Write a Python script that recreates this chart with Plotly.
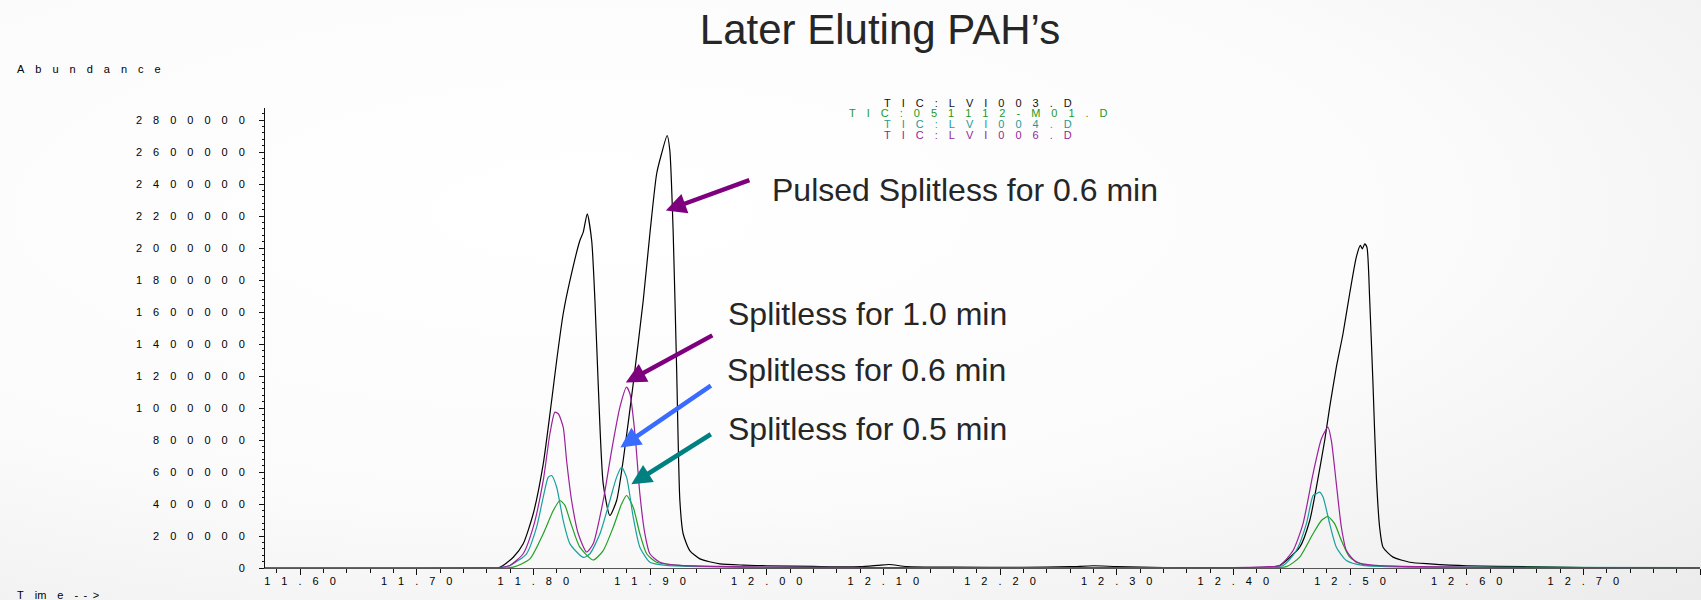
import base64
import plotly.graph_objects as go

# ---- chromatogram data (retention time in min, abundance in counts) ----
rt_lvi003 = [11.570, 11.700, 11.760, 11.7714, 11.7828, 11.7913, 11.7999, 11.8085, 11.8157,
             11.8200, 11.8256, 11.8314, 11.8399, 11.8428, 11.8462, 11.8500, 11.8528, 11.8556,
             11.8599, 11.8656, 11.8714, 11.8770, 11.8856, 11.8942, 11.8999, 11.9057, 11.9099,
             11.9147, 11.9170, 11.9199, 11.9228, 11.9256, 11.9284, 11.9341, 11.9428, 11.9599,
             11.980, 12.000, 12.040, 12.080, 12.095, 12.105, 12.120, 12.160, 12.220, 12.260,
             12.280, 12.300, 12.340, 12.400, 12.430, 12.4398, 12.4569, 12.4655, 12.4712,
             12.4783, 12.4826, 12.4883, 12.4940, 12.4997, 12.5054, 12.5089, 12.5106, 12.5126,
             12.5145, 12.5169, 12.5197, 12.5226, 12.5254, 12.5283, 12.5369, 12.5512, 12.5683,
             12.600, 12.650, 12.700, 12.800]
ab_lvi003 = [0, 0, 2000, 5000, 67000, 151000, 339000, 651000, 1047000,
             1297000, 1589000, 1797000, 2047000, 2099000, 2214000, 2047000, 1672000, 1151000,
             526000, 328000, 422000, 672000, 1151000, 1672000, 2089000, 2464000, 2589000,
             2703000, 2609000, 2089000, 1255000, 422000, 214000, 109000, 57000, 26000,
             18000, 14000, 10000, 8000, 16000, 22000, 9000, 5000, 4000, 8000,
             14000, 9000, 3000, 2000, 5000, 16000, 130000, 297000, 505000,
             797000, 1005000, 1255000, 1464000, 1714000, 1943000, 2016000, 1995000, 2026000,
             2005000, 1672000, 1151000, 568000, 255000, 130000, 68000, 36000, 26000,
             14000, 8000, 3000, 2000]

rt_m01 = [11.570, 11.760, 11.7828, 11.7971, 11.8085, 11.8171, 11.8228, 11.8271, 11.8314,
          11.8399, 11.8513, 11.8599, 11.8685, 11.8757, 11.8799, 11.8856, 11.8913, 11.8971,
          11.9057, 11.9256, 11.960, 12.000, 12.400, 12.4455, 12.4569, 12.4683, 12.4755,
          12.4811, 12.4869, 12.4926, 12.4997, 12.5111, 12.550, 12.800]
ab_m01 = [0, 0, 5000, 57000, 214000, 359000, 422000, 391000, 297000,
          130000, 50000, 109000, 255000, 401000, 453000, 380000, 214000, 89000,
          36000, 16000, 8000, 4000, 2000, 9000, 68000, 214000, 297000,
          322000, 276000, 172000, 68000, 22000, 8000, 2000]

rt_lvi004 = [11.570, 11.750, 11.770, 11.7799, 11.7942, 11.8028, 11.8085, 11.8128, 11.8157,
             11.8200, 11.8256, 11.8314, 11.8428, 11.8485, 11.8571, 11.8656, 11.8714, 11.8757,
             11.8799, 11.8856, 11.8913, 11.8999, 11.9142, 11.950, 12.000, 12.400, 12.4426,
             12.4540, 12.4626, 12.4683, 12.4712, 12.4740, 12.4769, 12.4826, 12.4883, 12.4969,
             12.5111, 12.550, 12.800]
ab_lvi004 = [0, 0, 2000, 16000, 89000, 255000, 443000, 568000, 578000,
             505000, 297000, 151000, 66000, 89000, 214000, 422000, 568000, 630000,
             568000, 318000, 130000, 36000, 16000, 8000, 4000, 2000, 16000,
             109000, 276000, 453000, 464000, 474000, 443000, 276000, 130000, 47000,
             16000, 6000, 2000]

rt_lvi006 = [11.570, 11.750, 11.770, 11.7799, 11.7913, 11.7999, 11.8085, 11.8142, 11.8185,
             11.8214, 11.8256, 11.8285, 11.8328, 11.8385, 11.8457, 11.8513, 11.8599, 11.8671,
             11.8742, 11.8799, 11.8828, 11.8871, 11.8913, 11.8956, 11.8999, 11.9085, 11.9256,
             11.960, 12.000, 12.100, 12.400, 12.430, 12.4398, 12.4512, 12.4597, 12.4683,
             12.4755, 12.4811, 12.4840, 12.4883, 12.4926, 12.4969, 12.5054, 12.5226, 12.560,
             12.650, 12.800]
ab_lvi006 = [0, 0, 2000, 16000, 89000, 255000, 547000, 839000, 974000,
             964000, 880000, 672000, 422000, 214000, 100000, 151000, 422000, 734000,
             1005000, 1130000, 1089000, 839000, 464000, 214000, 89000, 36000, 16000,
             10000, 6000, 3000, 2000, 8000, 16000, 109000, 276000, 589000,
             808000, 880000, 797000, 526000, 255000, 109000, 36000, 16000, 8000,
             3000, 2000]

file_names = ["TIC: LVI003.D", "TIC: 051112-M01.D", "TIC: LVI004.D", "TIC: LVI006.D"]
line_colors = ["#000000", "#22a022", "#1a9e9e", "#9b209b"]
legend_colors = ["#111111", "#229a22", "#1f9a9a", "#951f95"]

x_ticks = [11.60, 11.70, 11.80, 11.90, 12.00, 12.10, 12.20, 12.30, 12.40, 12.50, 12.60, 12.70, 12.80]
y_ticks = list(range(0, 2800001, 200000))

EM = "\u2003"


def spaced(s, gap=EM):
    return gap.join(list(s))


x_ticktext = [spaced(f"{v:.2f}") for v in x_ticks[:-1]] + [""]
y_ticktext = [spaced(str(v)) for v in y_ticks]

# plot-area geometry in page pixels
L, R, T, B = 265, 1700, 108, 568
W, H = R - L, B - T


def px(x):
    return (x - L) / W


def py(y):
    return (B - y) / H


fig = go.Figure()
series = [(rt_lvi003, ab_lvi003), (rt_m01, ab_m01), (rt_lvi004, ab_lvi004), (rt_lvi006, ab_lvi006)]
for (xs, ys), name, col in zip(series, file_names, line_colors):
    fig.add_trace(go.Scatter(x=xs, y=ys, mode="lines", name=name,
                             line=dict(color=col, width=1.2, shape="spline", smoothing=0.6),
                             hoverinfo="skip"))

# soft grey page backdrop
svg = (
    '<svg xmlns="http://www.w3.org/2000/svg" width="1701" height="600" viewBox="0 0 1701 600" '
    'preserveAspectRatio="none">'
    '<defs><radialGradient id="g" cx="0.35" cy="0.35" r="0.9">'
    '<stop offset="0" stop-color="#ffffff"/><stop offset="0.55" stop-color="#fbfbfb"/>'
    '<stop offset="1" stop-color="#ececec"/></radialGradient></defs>'
    '<rect width="1701" height="600" fill="url(#g)"/></svg>'
)
bg_src = "data:image/svg+xml;base64," + base64.b64encode(svg.encode()).decode()

annotations = []
font_family = "Liberation Sans, Arial, sans-serif"

# small header texts
annotations.append(dict(text=spaced("Abundance"), xref="paper", yref="paper", x=px(15), y=py(69),
                        xanchor="left", yanchor="middle", showarrow=False,
                        font=dict(size=11, color="#000000", family=font_family)))
annotations.append(dict(text="T" + EM + "im" + EM + "e" + EM + "-\u2002-\u2002>", xref="paper", yref="paper",
                        x=px(15), y=py(595), xanchor="left", yanchor="middle", showarrow=False,
                        font=dict(size=11, color="#000000", family=font_family)))

# file legend block
legend_y = [102.7, 113.3, 124.0, 135.0]
for name, col, yy in zip(file_names, legend_colors, legend_y):
    label = name.replace(": ", ":")
    annotations.append(dict(text=spaced(label), xref="paper", yref="paper",
                            x=px(978), y=py(yy),
                            xanchor="center", yanchor="middle", showarrow=False,
                            font=dict(size=11, color=col, family=font_family)))

# callout labels
callouts = [
    ("Pulsed Splitless for 0.6 min", 770, 190),
    ("Splitless for 1.0 min", 726, 314),
    ("Splitless for 0.6 min", 725, 370),
    ("Splitless for 0.5 min", 726, 429),
]
for txt, xx, yy in callouts:
    annotations.append(dict(text=txt, xref="paper", yref="paper", x=px(xx), y=py(yy),
                            xanchor="left", yanchor="middle", showarrow=False,
                            font=dict(size=32, color="#262626", family=font_family)))

# arrows: tip in data coordinates, tail offset in pixels
arrows = [
    (11.9136, 2234000, 85, -31, "#7f007f"),
    (11.8793, 1159000, 88, -48, "#7f007f"),
    (11.8746, 753000, 92, -63, "#3a6bff"),
    (11.8840, 523000, 81, -51, "#008080"),
]
for ax_t, ay_v, dx, dy, col in arrows:
    annotations.append(dict(x=ax_t, y=ay_v, xref="x", yref="y", ax=dx, ay=dy, text="",
                            showarrow=True, arrowhead=2, arrowsize=0.9, arrowwidth=4.5,
                            arrowcolor=col, standoff=0))

fig.update_layout(
    width=1701, height=600, autosize=False,
    margin=dict(l=L, r=1701 - R, t=T, b=600 - B, pad=0),
    paper_bgcolor="#ffffff", plot_bgcolor="rgba(0,0,0,0)",
    showlegend=False,
    title=dict(text="Later Eluting PAH\u2019s", x=880 / 1701, xref="container", xanchor="center",
               y=1 - 29 / 600, yref="container", yanchor="middle",
               font=dict(size=42, color="#262626", family=font_family)),
    font=dict(family=font_family, color="#000000"),
    images=[dict(source=bg_src, xref="paper", yref="paper", x=px(0), y=py(0),
                 sizex=1701 / W, sizey=600 / H, xanchor="left", yanchor="top",
                 sizing="stretch", layer="below")],
    annotations=annotations,
    xaxis=dict(range=[11.570, 12.800], showgrid=False, zeroline=False,
               showline=True, linecolor="#555555", linewidth=1,
               tickmode="array", tickvals=x_ticks, ticktext=x_ticktext,
               ticks="outside", ticklen=6, tickwidth=1, tickcolor="#111111",
               ticklabelstandoff=-3,
               tickfont=dict(size=11, color="#000000", family=font_family),
               minor=dict(tick0=11.60, dtick=0.02, ticks="outside", ticklen=4,
                          tickwidth=1, tickcolor="#111111")),
    yaxis=dict(range=[0, 2875000], showgrid=False, zeroline=False,
               showline=True, linecolor="#111111", linewidth=1,
               tickmode="array", tickvals=y_ticks, ticktext=y_ticktext,
               ticks="outside", ticklen=5, tickwidth=1, tickcolor="#111111",
               ticklabelstandoff=12,
               tickfont=dict(size=11, color="#000000", family=font_family),
               minor=dict(tick0=0, dtick=40000, ticks="outside", ticklen=2,
                          tickwidth=1, tickcolor="#111111")),
)

fig.write_html("out.html")
